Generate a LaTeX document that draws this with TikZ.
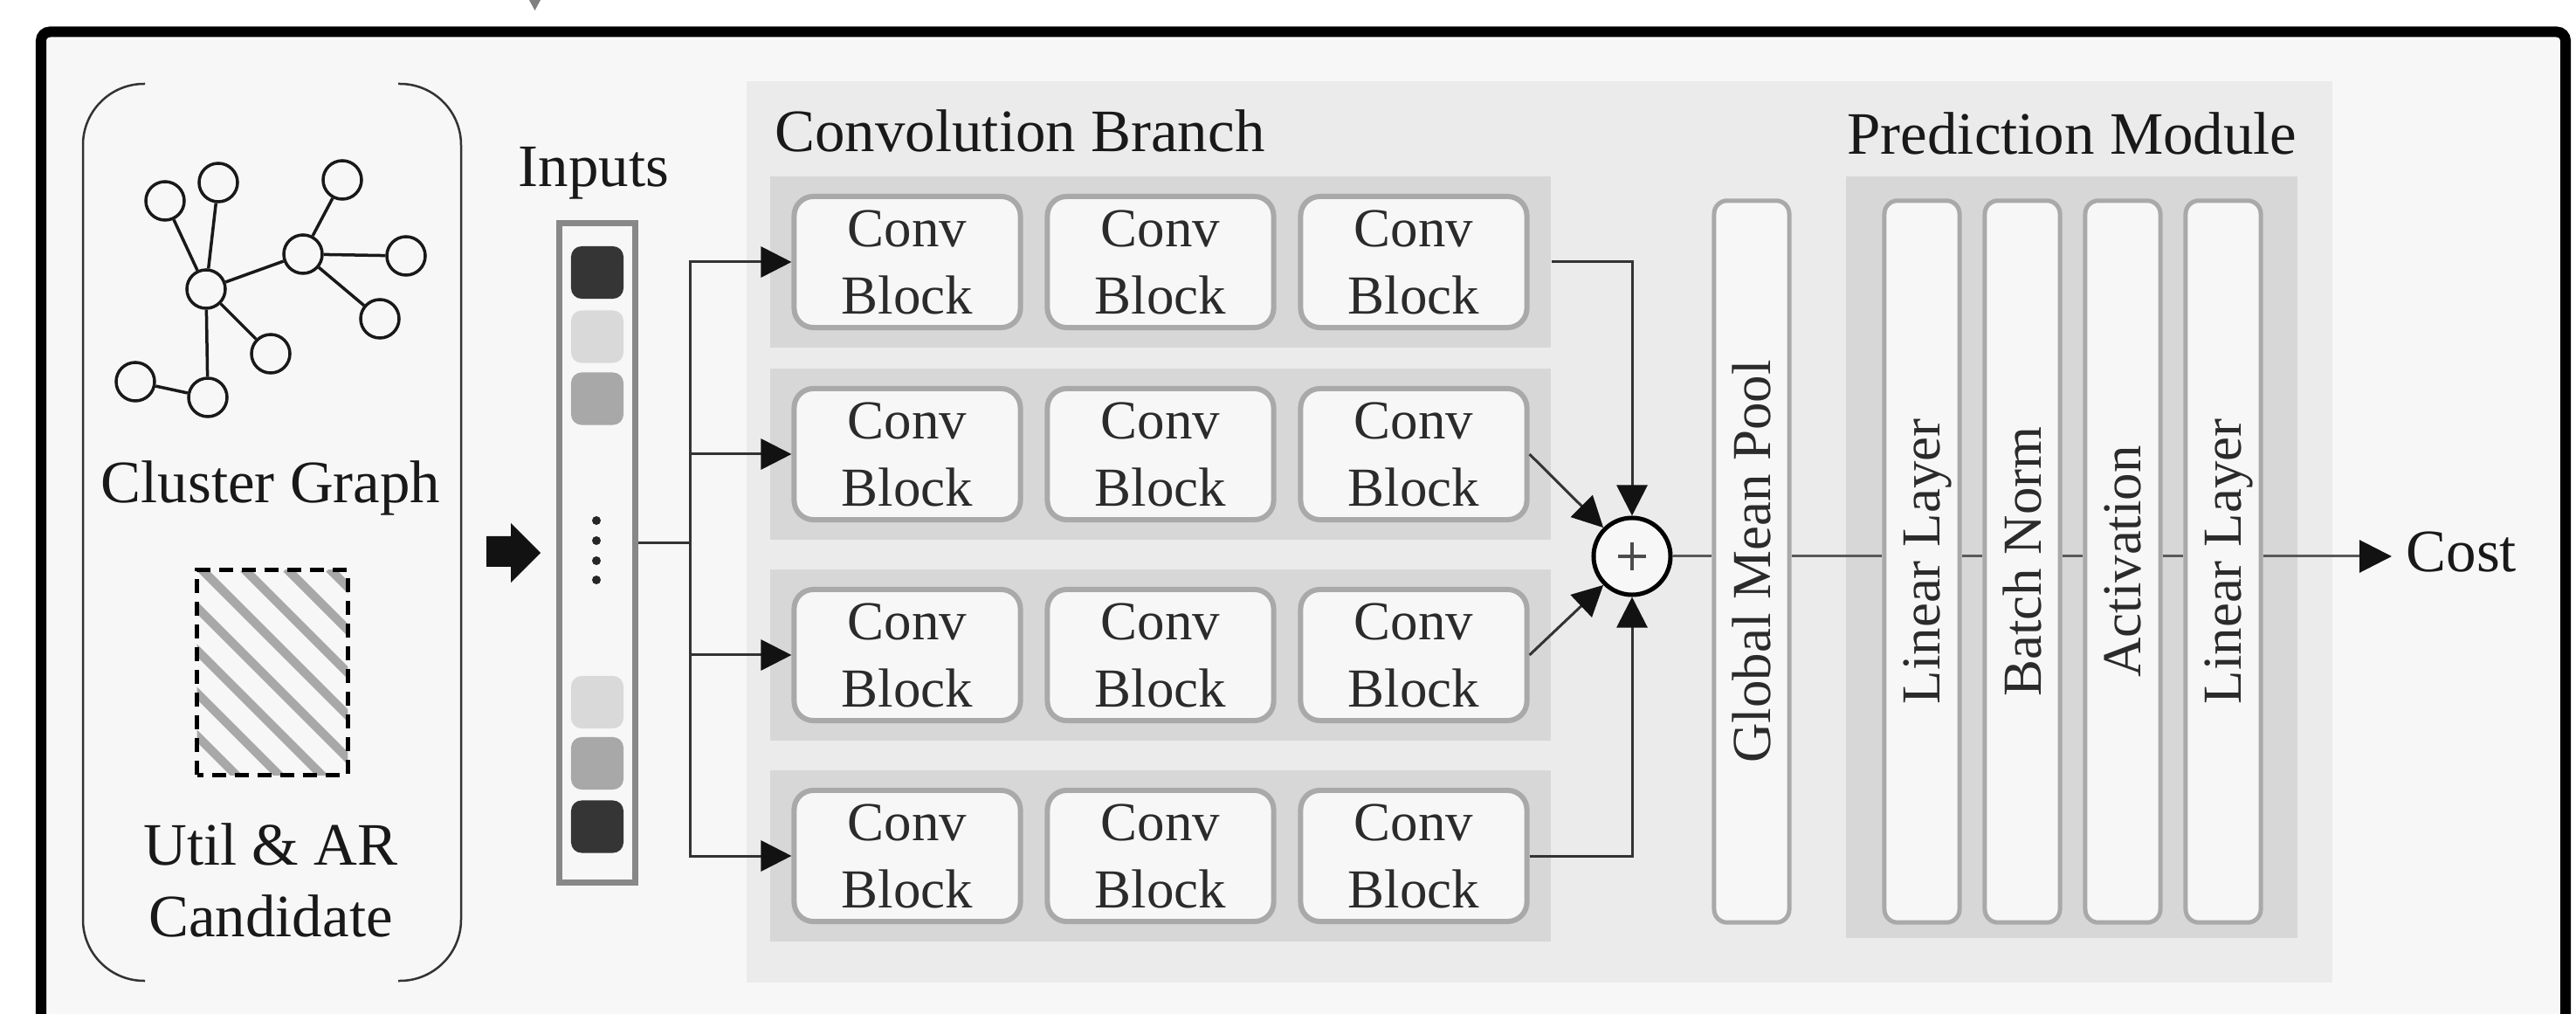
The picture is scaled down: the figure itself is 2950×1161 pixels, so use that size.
\documentclass[tikz,border=0pt]{standalone}
\usepackage{fontspec}
\setmainfont{Liberation Serif}
\usetikzlibrary{arrows.meta}

\definecolor{framebg}{HTML}{F7F7F7}
\definecolor{panelbg}{HTML}{EBEBEB}
\definecolor{bandbg}{HTML}{D7D7D7}
\definecolor{boxline}{HTML}{A9A9A9}
\definecolor{inboxline}{HTML}{888888}
\definecolor{wire}{HTML}{333333}
\definecolor{txt}{HTML}{2B2B2B}
\definecolor{cdark}{HTML}{353535}
\definecolor{cmid}{HTML}{A8A8A8}
\definecolor{clight}{HTML}{D9D9D9}
\definecolor{hatch}{HTML}{A8A8A8}

\begin{document}
\begin{tikzpicture}[x=0.01cm, y=-0.01cm,
        big/.style={font=\fontsize{19.6}{23.3}\selectfont, text=black!90, inner sep=0},
        small/.style={font=\fontsize{17.9}{21.9}\selectfont, text=txt},
        gnode/.style={circle, draw=black!90, line width=0.035cm, fill=framebg, minimum size=0.44cm, inner sep=0},
        gedge/.style={black!90, line width=0.035cm},
        cell/.style={minimum size=0.6cm, rounded corners=0.12cm, inner sep=0},
        band/.style={fill=bandbg, minimum width=8.94cm, minimum height=1.96cm, inner sep=0},
        conv/.style={small, draw=boxline, line width=0.06cm, fill=framebg, rounded corners=0.22cm,
            minimum width=2.59cm, minimum height=1.5cm, align=center, inner sep=0},
        layer/.style={small, draw=boxline, line width=0.05cm, fill=framebg, rounded corners=0.15cm,
            rotate=90, minimum width=8.26cm, minimum height=0.86cm, text depth=0pt, inner sep=0},
        arr/.style={wire, line width=0.03cm, -{Triangle[length=0.35cm, width=0.35cm, color=black!93]}},
        line/.style={black!65, line width=0.03cm}]
        %\draw[color=lightgray] (0, 0) grid[step=100] (2950, 1161);
        \useasboundingbox (0, 0) rectangle (2950, 1161);
        \fill[white] (0, 0) rectangle (2950, 1161);
        \fill[gray] (606, 0) -- (619, 0) -- (612.5, 12) -- cycle;
        \fill[framebg] (47, 36) rectangle (2938, 1175);
        \draw[line width=0.12cm, rounded corners=0.1cm] (47, 1175) -- (47, 36.5) -- (2938, 36.5) -- (2938, 1175);

        % left part
        \draw[wire, line width=0.025cm, rounded corners=0.7cm] (166, 96) -- (95, 96) -- (95, 1123) -- (166, 1123);
        \draw[wire, line width=0.025cm, rounded corners=0.7cm] (456, 96) -- (528, 96) -- (528, 1123) -- (456, 1123);
        \foreach \n/\x/\y in {a/236/331, b/189/230, c/250/209, d/347/291, e/392/206,
                f/465/293, g/435/365, h/310/405, i/238/455, j/155/437}
            \node[gnode] (\n) at (\x, \y) {};
        \foreach \u/\v in {a/b, a/c, a/d, a/h, a/i, d/e, d/f, d/g, i/j}
            \draw[gedge] (\u) -- (\v);
        \node[big, anchor=base] (cg) at (310, 576) {Cluster Graph};
        \node[minimum width=1.71cm, minimum height=2.33cm, inner sep=0] (cand) at (312, 770) {};
        \begin{scope}
            \clip (cand.south west) rectangle (cand.north east);
            \foreach \s in {-5, ..., 3}
                \draw[hatch, line width=0.1cm] (230 + 49 * \s, 651) -- ++(300, 300);
        \end{scope}
        \draw[line width=0.05cm, dash pattern=on 0.16cm off 0.1cm] (cand.south west) rectangle (cand.north east);
        \node[big, align=center] (uar) at (310, 1008) {Util \& AR\\Candidate};
        \fill[black!93] (557, 614) -- (585, 614) -- (585, 599) -- (619, 633) -- (585, 667) -- (585, 649) -- (557, 649) -- cycle;

        % inputs
        \node[big, anchor=base] (inlabel) at (680, 214) {Inputs};
        \node[draw=inboxline, line width=0.07cm, minimum width=0.87cm, minimum height=7.545cm, inner sep=0] (inp) at (684, 633) {};
        \foreach \y/\c [count=\k] in {312/cdark, 385.5/clight, 456.5/cmid, 804/clight, 874/cmid, 946.5/cdark}
            \node[cell, fill=\c] (s\k) at (684, \y) {};
        \foreach \y in {596, 619, 642, 664}
            \fill[black!85] (683, \y) circle[radius=0.05cm];

        % convolution branch
        \fill[panelbg] (855, 93) rectangle (2671, 1125);
        \node[big, anchor=base] (cblabel) at (1168, 174) {Convolution Branch};
        \node[big, anchor=base] (pmlabel) at (2373, 177) {Prediction Module};
        \foreach \r/\y in {1/300, 2/520, 3/750, 4/980} {
            \node[band] (b\r) at (1329, \y) {};
            \foreach \c/\x in {1/1039, 2/1329, 3/1619}
                \node[conv] (c\r\c) at (\x, \y) {Conv\\Block};
        }
        \coordinate (split) at (790, 622);
        \draw[wire, line width=0.03cm] (inp.east |- split) -- (split);
        \foreach \r in {1, ..., 4}
            \draw[arr] (split) |- (c\r1.west);

        \node[circle, draw, line width=0.05cm, fill=framebg, minimum size=0.88cm, inner sep=0] (sum) at (1869, 637) {};
        \draw[black!70, line width=0.04cm] (sum.center) +(-16, 0) -- +(16, 0) (sum.center) +(0, -16) -- +(0, 16);
        \draw[arr] (b1.east) -| (sum.north);
        \draw[arr] (c23.east) -- (sum.north west);
        \draw[arr] (c33.east) -- (sum.south west);
        \draw[arr] (c43.east) -| (sum.south);

        % prediction module
        \node[layer] (gmp) at (2006, 643) {Global Mean Pool};
        \node[fill=bandbg, minimum width=5.17cm, minimum height=8.72cm, inner sep=0] (pband) at (2372.5, 638) {};
        \foreach \t/\x [count=\k] in {Linear Layer/2201, Batch Norm/2316, Activation/2431, Linear Layer/2546}
            \node[layer] (l\k) at (\x, 643) {\t};
        \coordinate (tip) at (2739, 637);
        \node[big, anchor=base west] (cost) at (2755, 655) {Cost};
        \draw[line] (sum.east) -- (sum.east -| gmp.north);
        \draw[line] (sum.east -| gmp.south) -- (sum.east -| l1.north);
        \foreach \a/\b in {1/2, 2/3, 3/4}
            \draw[line] (sum.east -| l\a.south) -- (sum.east -| l\b.north);
        \draw[line, -{Triangle[length=0.37cm, width=0.37cm, color=black!93]}] (sum.east -| l4.south) -- (tip);
\end{tikzpicture}
\end{document}
